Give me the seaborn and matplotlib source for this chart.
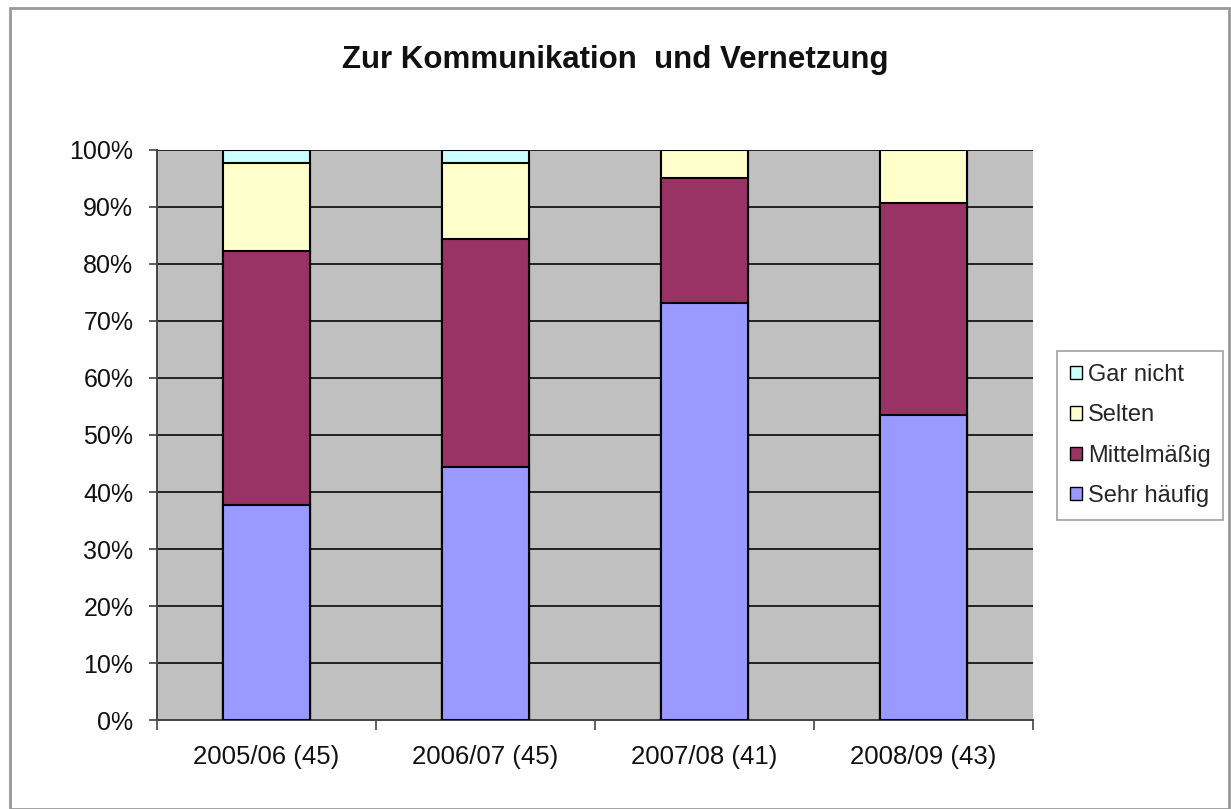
import numpy as np
import pandas as pd
import seaborn as sns
import matplotlib.pyplot as plt
from matplotlib.patches import Patch
from matplotlib.ticker import PercentFormatter, FixedLocator

# Anteile in Prozent je Jahrgang
jahre = ['2005/06 (45)', '2006/07 (45)', '2007/08 (41)', '2008/09 (43)']
sehr_haeufig = [37.8, 44.4, 73.2, 53.5]
mittelmaessig = [44.4, 40.0, 21.9, 37.2]
selten = [15.6, 13.4, 4.9, 9.3]
gar_nicht = [2.2, 2.2, 0.0, 0.0]

kategorien = ['Sehr häufig', 'Mittelmäßig', 'Selten', 'Gar nicht']
farben = ['#9999FF', '#993366', '#FFFFCC', '#CCFFFF']

df = pd.DataFrame({'Jahr': jahre, 'Sehr häufig': sehr_haeufig,
                   'Mittelmäßig': mittelmaessig, 'Selten': selten,
                   'Gar nicht': gar_nicht})
kum = df[kategorien].cumsum(axis=1)

sns.set_theme(style='white')
plt.rcParams['font.family'] = ['Liberation Sans', 'DejaVu Sans']

fig = plt.figure(figsize=(12.31, 8.09), dpi=100)
ax = fig.add_axes([0.1275, 0.110, 0.7115, 0.7046])
ax.set_facecolor('#C0C0C0')

# gestapelt: oberste Schicht zuerst, dann darüber die unteren
for kat, farbe in reversed(list(zip(kategorien, farben))):
    sns.barplot(x=df['Jahr'], y=kum[kat], color=farbe, width=0.4, saturation=1,
                edgecolor='black', linewidth=1.5, ax=ax, zorder=3)

ax.set_ylim(0, 100)
ax.set_xlim(-0.5, 3.5)
ax.set_yticks(np.arange(0, 101, 10))
ax.yaxis.set_major_formatter(PercentFormatter(decimals=0))
ax.grid(axis='y', color='#222222', linewidth=1.4, zorder=0)
ax.set_axisbelow(True)
ax.set_xlabel('')
ax.set_ylabel('')

ax.tick_params(axis='y', which='major', length=6, width=1.2, color='#444444',
               labelsize=18, pad=11, left=True, labelcolor='#111111')
ax.tick_params(axis='x', which='major', length=0, labelsize=18.5, pad=18,
               labelcolor='#111111')
ax.xaxis.set_minor_locator(FixedLocator([-0.5, 0.5, 1.5, 2.5, 3.5]))
ax.tick_params(axis='x', which='minor', length=7, width=1.2, color='#444444',
               bottom=True)

for side in ['top', 'right']:
    ax.spines[side].set_visible(False)
for side in ['left', 'bottom']:
    ax.spines[side].set_color('#444444')
    ax.spines[side].set_linewidth(1.4)

fig.text(0.5, 0.926, 'Zur Kommunikation  und Vernetzung', ha='center',
         va='center', fontsize=22.5, fontweight='bold', color='#111111')

handles = [Patch(facecolor=f, edgecolor='black', label=k)
           for k, f in zip(kategorien, farben)][::-1]
leg = fig.legend(handles=handles, loc='center left',
                 bbox_to_anchor=(0.8587, 0.4617), frameon=True, fontsize=17,
                 fancybox=False, handlelength=0.5, handleheight=0.5,
                 handletextpad=0.25, labelspacing=0.78, borderpad=0.55,
                 borderaxespad=0)
leg.get_frame().set_edgecolor('#888888')
leg.get_frame().set_linewidth(1.2)

# äußerer Rahmen
fig.patches.append(plt.Rectangle((0.008, 0.0), 0.99, 0.99, transform=fig.transFigure,
                                 fill=False, edgecolor='#999999', linewidth=2))

plt.savefig('out.png', dpi=100)
